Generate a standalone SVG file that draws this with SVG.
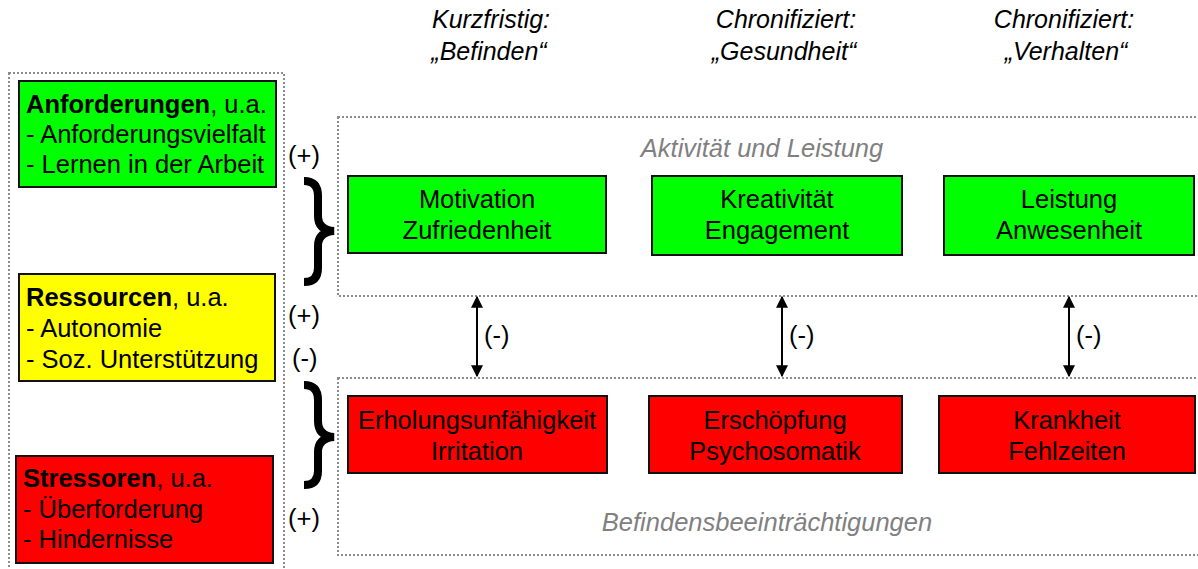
<svg xmlns="http://www.w3.org/2000/svg" width="1198" height="569" viewBox="0 0 1198 569">
<style>
text{font-family:"Liberation Sans",Arial,sans-serif;fill:#000}
.t{font-size:25.5px}
.c{text-anchor:middle}
.b{font-weight:bold}
.h{font-style:italic;font-size:25px}
.g{font-style:italic;font-size:25.5px;fill:#808080;text-anchor:middle}
.box{stroke:#111;stroke-width:2}
.dot{fill:none;stroke:#8c8c8c;stroke-width:2;stroke-dasharray:2 2}
.brace{fill:none;stroke:#000;stroke-width:8;stroke-linecap:butt}
.arr{stroke:#000;stroke-width:2;marker-start:url(#ah);marker-end:url(#ah)}
</style>
<defs>
<marker id="ah" viewBox="0 0 10 10" refX="9" refY="5" markerWidth="6" markerHeight="6" orient="auto-start-reverse" markerUnits="strokeWidth">
<path d="M0,0 L10,5 L0,10 z" fill="#000"/>
</marker>
</defs>
<rect width="1198" height="569" fill="#fff"/>

<g id="headers">
<text class="h c" x="491" y="28">Kurzfristig:</text>
<text class="h c" x="489" y="60">„Befinden“</text>
<text class="h c" x="786" y="28">Chronifiziert:</text>
<text class="h c" x="784" y="60">„Gesundheit“</text>
<text class="h c" x="1064" y="28">Chronifiziert:</text>
<text class="h c" x="1066" y="60">„Verhalten“</text>
</g>

<g id="containers">
<rect class="dot" x="9" y="73" width="275" height="510"/>
<rect class="dot" x="338" y="117" width="870" height="179"/>
<rect class="dot" x="338" y="378" width="870" height="177"/>
<text class="g" x="762" y="157">Aktivität und Leistung</text>
<text class="g" x="767" y="531">Befindensbeeinträchtigungen</text>
</g>

<g id="anforderungen">
<rect class="box" x="19" y="81" width="257" height="106" fill="#00ff00"/>
<text class="t" x="26" y="113"><tspan class="b">Anforderungen</tspan>, u.a.</text>
<text class="t" x="26" y="143">- Anforderungsvielfalt</text>
<text class="t" x="26" y="173">- Lernen in der Arbeit</text>
</g>

<g id="ressourcen">
<rect class="box" x="19" y="274" width="256" height="107" fill="#ffff00"/>
<text class="t" x="26" y="306"><tspan class="b">Ressourcen</tspan>, u.a.</text>
<text class="t" x="26" y="337">- Autonomie</text>
<text class="t" x="26" y="368">- Soz. Unterstützung</text>
</g>

<g id="stressoren">
<rect class="box" x="16" y="456" width="257" height="107" fill="#ff0000"/>
<text class="t" x="23" y="487"><tspan class="b">Stressoren</tspan>, u.a.</text>
<text class="t" x="23" y="518">- Überforderung</text>
<text class="t" x="23" y="548">- Hindernisse</text>
</g>

<g id="motivation">
<rect class="box" x="348" y="176" width="258" height="77" fill="#00ff00"/>
<text class="t c" x="477" y="208">Motivation</text>
<text class="t c" x="477" y="239">Zufriedenheit</text>
</g>
<g id="kreativitaet">
<rect class="box" x="652" y="176" width="250" height="79" fill="#00ff00"/>
<text class="t c" x="777" y="208">Kreativität</text>
<text class="t c" x="777" y="239">Engagement</text>
</g>
<g id="leistung">
<rect class="box" x="944" y="176" width="250" height="79" fill="#00ff00"/>
<text class="t c" x="1069" y="208">Leistung</text>
<text class="t c" x="1069" y="239">Anwesenheit</text>
</g>

<g id="erholung">
<rect class="box" x="348" y="396" width="259" height="77" fill="#ff0000"/>
<text class="t c" x="477" y="429">Erholungsunfähigkeit</text>
<text class="t c" x="477" y="460">Irritation</text>
</g>
<g id="erschoepfung">
<rect class="box" x="649" y="396" width="253" height="77" fill="#ff0000"/>
<text class="t c" x="775" y="429">Erschöpfung</text>
<text class="t c" x="775" y="460">Psychosomatik</text>
</g>
<g id="krankheit">
<rect class="box" x="939" y="396" width="256" height="77" fill="#ff0000"/>
<text class="t c" x="1067" y="429">Krankheit</text>
<text class="t c" x="1067" y="460">Fehlzeiten</text>
</g>

<g id="connectors">
<path class="brace" d="M304,181 Q318,181 318,196 L318,216 Q318,230 334,231 Q318,232 318,246 L318,268 Q318,282 304,282"/>
<path class="brace" d="M304,385 Q318,385 318,400 L318,421 Q318,436 334,437 Q318,438 318,452 L318,471 Q318,485 304,485"/>
<text class="t" x="288" y="164">(+)</text>
<text class="t" x="288" y="324">(+)</text>
<text class="t" x="292" y="367">(-)</text>
<text class="t" x="288" y="527">(+)</text>
<line class="arr" x1="477" y1="297" x2="477" y2="376"/>
<line class="arr" x1="782" y1="297" x2="782" y2="376"/>
<line class="arr" x1="1069" y1="297" x2="1069" y2="376"/>
<text class="t" x="484" y="344">(-)</text>
<text class="t" x="789" y="344">(-)</text>
<text class="t" x="1076" y="344">(-)</text>
</g>
</svg>
